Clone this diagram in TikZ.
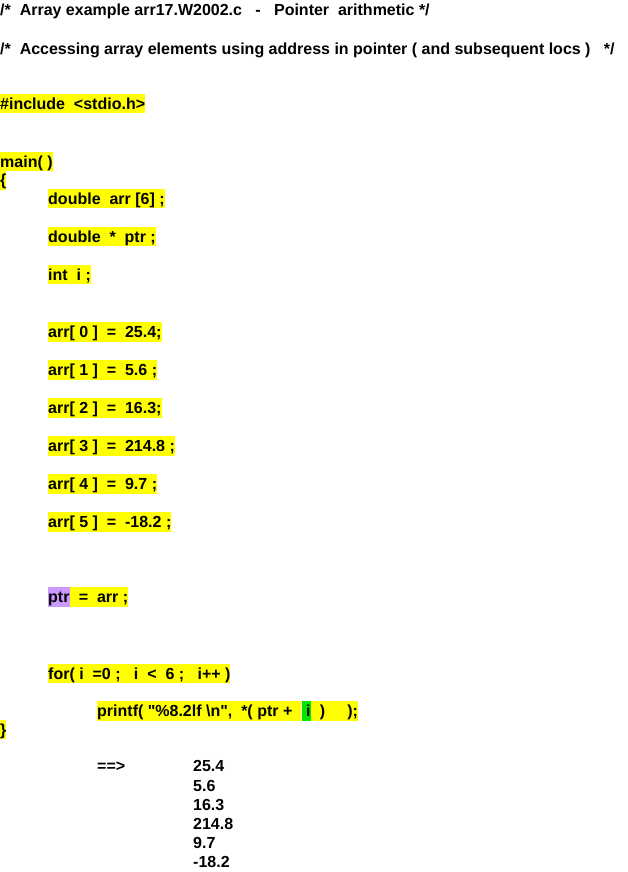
\documentclass[tikz,border=0pt]{standalone}
\usepackage{fontspec}
\setmainfont{Liberation Sans}
\usetikzlibrary{positioning}
\definecolor{hlyellow}{RGB}{255,255,0}
\definecolor{hlpurple}{RGB}{204,153,255}
\definecolor{hlgreen}{RGB}{0,230,0}

\begin{document}
\begin{tikzpicture}[
    x=1pt, y=-1pt,
    every node/.style={font=\fontsize{16}{19}\selectfont\bfseries},
    txt/.style={anchor=west, inner xsep=0pt, inner ysep=0pt, text height=15.5pt, text depth=4pt},
    code/.style={txt, fill=hlyellow},
    ptrmark/.style={txt, fill=hlpurple},
    idxmark/.style={txt, fill=hlgreen}
]
\useasboundingbox (0,0) rectangle (628,872);

% Comments (top)
\node[txt] (title) at (0,9.5) {/*\ \ Array example arr17.W2002.c\ \ \ -\ \ \ Pointer\ \ arithmetic */};
\node[txt] (note) at (0,49) {/*\ \ Accessing array elements using address in pointer ( and subsequent locs )\ \ \ */};

% Header and main
\node[code] (incl) at (0,103.5) {\#include\ \ <stdio.h>};
\node[code] (main) at (0,161.5) {main( )};
\node[code] (open) at (0,180) {\{};

% Declarations
\node[code] (decarr) at (48,198.5) {double\ \ arr [6] ;};
\node[code] (decptr) at (48,236.5) {double\ \ *\ \ ptr ;};
\node[code] (deci) at (48,274.5) {int\ \ i ;};

% Assignments
\node[code] (set0) at (48,332) {arr[ 0 ]\ \ =\ \ 25.4;};
\node[code] (set1) at (48,370) {arr[ 1 ]\ \ =\ \ 5.6 ;};
\node[code] (set2) at (48,408) {arr[ 2 ]\ \ =\ \ 16.3;};
\node[code] (set3) at (48,446) {arr[ 3 ]\ \ =\ \ 214.8 ;};
\node[code] (set4) at (48,484) {arr[ 4 ]\ \ =\ \ 9.7 ;};
\node[code] (set5) at (48,522) {arr[ 5 ]\ \ =\ \ -18.2 ;};

% Pointer
\node[ptrmark] (ptr) at (48,597) {ptr};
\node[code, right=0pt of ptr] (ptrset) {\ \ =\ \ arr ;};

% Loop
\node[code] (loop) at (48,673.5) {for( i\ \ =0 ;\ \ \ i\ \ <\ \ 6 ;\ \ \ i++ )};
\node[code] (prn) at (97,711) {printf( \textquotedbl\%8.2lf \textbackslash n\textquotedbl,\ \ *( ptr +\ \ \ };
\node[idxmark, right=0pt of prn] (idx) {\ i\ };
\node[code, right=0pt of idx] (prnend) {\ \ )\ \ \ \ \ );};
\node[code] (close) at (0,729.5) {\}};

% Output
\node[txt] (arrow) at (97,766) {==>};
\node[txt] (out1) at (193,766) {25.4};
\node[txt] (out2) at (193,785.5) {5.6};
\node[txt] (out3) at (193,804.5) {16.3};
\node[txt] (out4) at (193,824) {214.8};
\node[txt] (out5) at (193,843) {9.7};
\node[txt] (out6) at (193,862) {-18.2};

\end{tikzpicture}
\end{document}
